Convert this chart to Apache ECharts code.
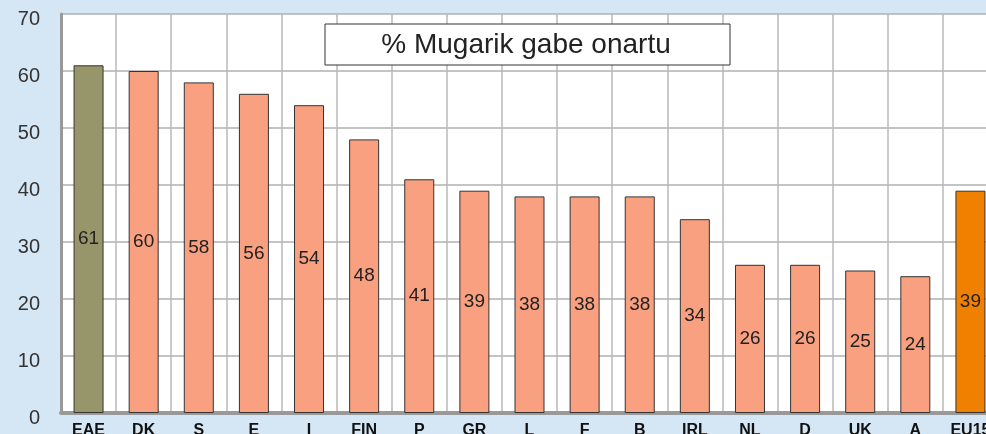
<!DOCTYPE html>
<html>
<head>
<meta charset="utf-8">
<title>% Mugarik gabe onartu</title>
<script src="https://cdn.jsdelivr.net/npm/echarts@6/dist/echarts.min.js"></script>
<style>
  html, body { margin: 0; padding: 0; background: #d5e6f4; }
  #main { width: 986px; height: 434px; }
</style>
</head>
<body>
<div id="main"></div>
<script>
// datuak
var categories = ['EAE', 'DK', 'S', 'E', 'I', 'FIN', 'P', 'GR', 'L', 'F', 'B', 'IRL', 'NL', 'D', 'UK', 'A', 'EU15'];
var values = [61, 60, 58, 56, 54, 48, 41, 39, 38, 38, 38, 34, 26, 26, 25, 24, 39];
var yTicks = [0, 10, 20, 30, 40, 50, 60, 70];

// koloreak
var baseColor = '#f9a080';
var specialColors = {
  'EAE': '#97966a',
  'EU15': '#f08000'
};
var font = "'Liberation Sans', Arial, sans-serif";

var myChart = echarts.init(document.getElementById('main'));

var option = {
  backgroundColor: '#d5e6f4',
  animation: false,
  grid: {
    left: 61,
    top: 14,
    width: 937,
    height: 399,
    outerBoundsMode: 'none',
    containLabel: false,
    show: true,
    backgroundColor: '#ffffff',
    borderWidth: 0
  },
  graphic: [{
    type: 'rect',
    shape: { x: 325, y: 24, width: 405, height: 41 },
    style: { fill: '#ffffff', stroke: '#333333', lineWidth: 1 },
    z: 100
  }, {
    type: 'text',
    x: 526,
    y: 45,
    style: {
      text: '% Mugarik gabe onartu',
      font: '28px ' + font,
      fill: '#222222',
      align: 'center',
      verticalAlign: 'middle'
    },
    z: 101
  }],
  xAxis: {
    type: 'category',
    data: categories,
    axisLine: { lineStyle: { color: '#999999', width: 4 } },
    axisTick: { show: false },
    axisLabel: {
      interval: 0,
      margin: 10,
      color: '#111111',
      fontFamily: font,
      fontWeight: 'bold',
      fontSize: 16
    },
    splitLine: {
      show: true,
      interval: 0,
      lineStyle: { color: '#b8b8b8', width: 1.5 }
    }
  },
  yAxis: {
    type: 'value',
    min: yTicks[0],
    max: yTicks[yTicks.length - 1],
    interval: 10,
    axisLine: { show: true, lineStyle: { color: '#999999', width: 3 } },
    axisTick: { show: false },
    axisLabel: {
      margin: 21,
      verticalAlign: 'top',
      lineHeight: 10,
      color: '#333333',
      fontFamily: font,
      fontSize: 20
    },
    splitLine: { lineStyle: { color: '#b0b0b0', width: 1.5 } }
  },
  series: [{
    type: 'bar',
    data: values,
    barWidth: 30,
    itemStyle: {
      color: function (p) {
        return specialColors[p.name] || baseColor;
      },
      borderColor: '#333333',
      borderWidth: 1
    },
    label: {
      show: true,
      position: 'inside',
      color: '#222222',
      fontFamily: font,
      fontSize: 19
    }
  }]
};

myChart.setOption(option, true);
window.addEventListener('resize', function () {
  myChart.resize();
});
</script>
</body>
</html>
